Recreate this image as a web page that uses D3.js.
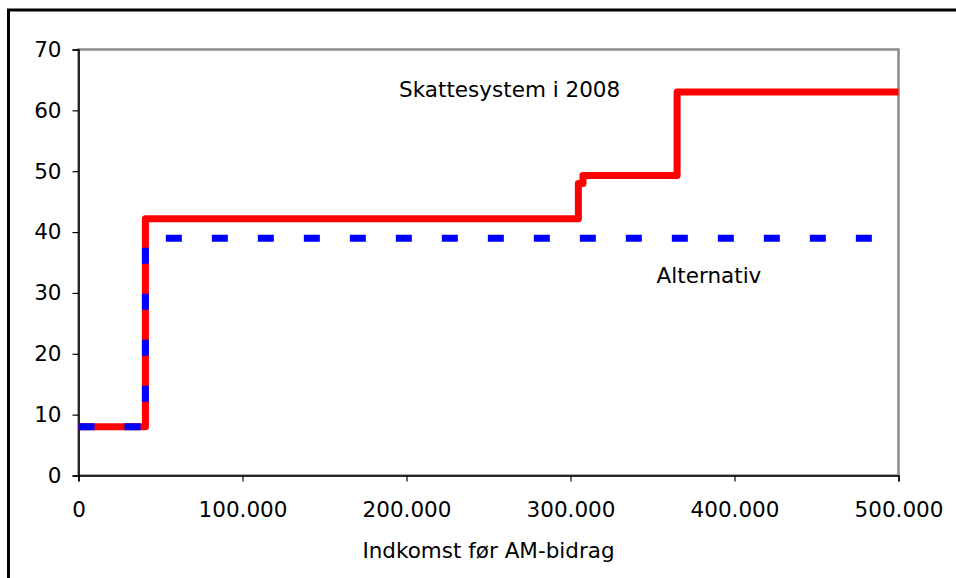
<!DOCTYPE html>
<html><head><meta charset="utf-8">
<script src="https://cdn.jsdelivr.net/npm/d3@7"></script>
<style>html,body{margin:0;padding:0;background:#fff;}svg{display:block;font-family:"DejaVu Sans",Verdana,sans-serif;}</style>
</head><body>
<svg id="c" width="956" height="578"></svg>
<script>
// Data
const redX = [0, 40800, 40800, 304800, 304800, 307600, 307600, 365000, 365000, 500000];
const redY = [8, 8, 42.2, 42.2, 48.0, 48.0, 49.3, 49.3, 63.0, 63.0];
const blueX = [0, 40800, 40800, 484000];
const blueY = [8, 8, 39.0, 39.0];
const xTicks = [0, 100000, 200000, 300000, 400000, 500000];
const xTickLabels = ["0", "100.000", "200.000", "300.000", "400.000", "500.000"];
const yTicks = [0, 10, 20, 30, 40, 50, 60, 70];
const labels = [
  {text: "Skattesystem i 2008", x: 195500, y: 63.4},
  {text: "Alternativ", x: 352500, y: 32.9}
];
const xTitle = "Indkomst før AM-bidrag";

const svg = d3.select("#c");
const L = 78.5, R = 898.5, T = 49.5, B = 475.5;
const x = d3.scaleLinear().domain([0, 500000]).range([L, R]);
const y = d3.scaleLinear().domain([0, 70]).range([B, T]);
const FS = 21.5;

// outer border
svg.append("rect").attr("x", 8.5).attr("y", 10).attr("width", 1000).attr("height", 1000)
  .attr("fill", "none").attr("stroke", "#000").attr("stroke-width", 3);

// plot area border (gray)
svg.append("rect").attr("x", L).attr("y", T).attr("width", R - L).attr("height", B - T)
  .attr("fill", "none").attr("stroke", "#8c8c8c").attr("stroke-width", 2.5);

// axes
const yAxis = svg.append("g").attr("transform", `translate(${L},0)`)
  .call(d3.axisLeft(y).tickValues(yTicks).tickSize(6).tickPadding(11).tickFormat(d3.format("d")));
const xAxis = svg.append("g").attr("transform", `translate(0,${B})`)
  .call(d3.axisBottom(x).tickValues(xTicks).tickSize(6).tickPadding(20).tickFormat((d, i) => xTickLabels[i]));
[yAxis, xAxis].forEach(g => {
  g.select(".domain").attr("stroke", "#000").attr("stroke-width", 1.5);
  g.selectAll(".tick line").attr("stroke", "#000").attr("stroke-width", 1.2);
  g.selectAll("text").attr("font-size", FS).attr("fill", "#000").attr("font-family", '"DejaVu Sans",Verdana,sans-serif');
});

// lines
const line = d3.line().x(d => x(d[0])).y(d => y(d[1]));
svg.append("path").datum(redX.map((v, i) => [v, redY[i]]))
  .attr("d", line).attr("fill", "none").attr("stroke", "#ff0000").attr("stroke-width", 7)
  .attr("stroke-linejoin", "round").attr("stroke-linecap", "butt");
svg.append("path").datum(blueX.map((v, i) => [v, blueY[i]]))
  .attr("d", line).attr("fill", "none").attr("stroke", "#0000ff").attr("stroke-width", 7)
  .attr("stroke-dasharray", "16,30");

// labels
svg.selectAll("text.lbl").data(labels).enter().append("text").attr("class", "lbl")
  .attr("x", d => x(d.x)).attr("y", d => y(d.y)).attr("dy", "0.35em")
  .attr("font-size", FS).attr("fill", "#000").text(d => d.text);

svg.append("text").attr("x", (L + R) / 2).attr("y", 558).attr("text-anchor", "middle")
  .attr("font-size", FS).attr("fill", "#000").text(xTitle);
</script>
</body></html>
